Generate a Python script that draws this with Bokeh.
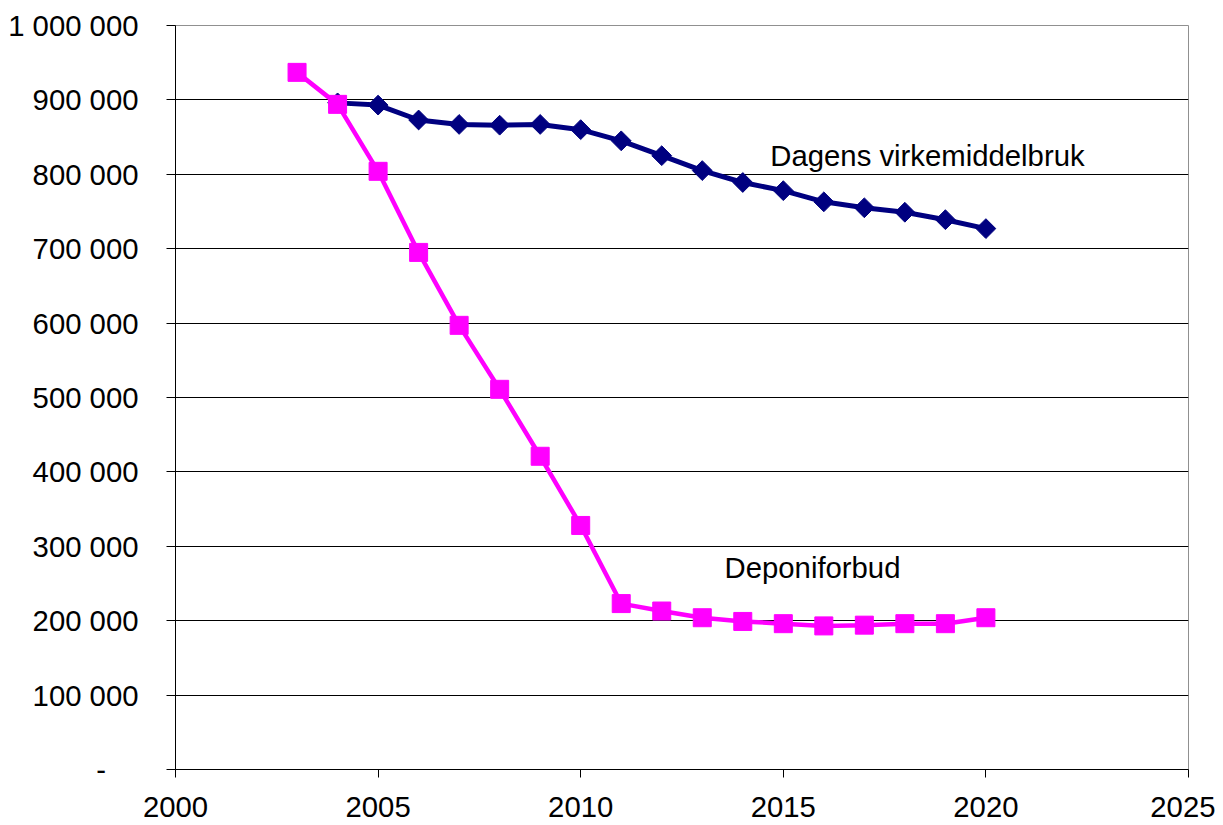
from bokeh.plotting import figure
from bokeh.models import Range1d, FixedTicker, Label
from bokeh.embed import file_html
from bokeh.resources import INLINE
import math

# Data
years_dagens = [2004, 2005, 2006, 2007, 2008, 2009, 2010, 2011, 2012,
                2013, 2014, 2015, 2016, 2017, 2018, 2019, 2020]
dagens = [896000, 893000, 873000, 867000, 866000, 867000, 860000, 845000, 825000,
          805000, 789000, 778000, 763000, 755000, 749000, 739000, 727000]

years_depon = [2003, 2004, 2005, 2006, 2007, 2008, 2009, 2010, 2011, 2012,
               2013, 2014, 2015, 2016, 2017, 2018, 2019, 2020]
depon = [937000, 894000, 804000, 695000, 597000, 511000, 421000, 328000, 223000, 213000,
         204000, 199000, 196000, 193000, 194000, 196000, 196000, 204000]

x_ticks = [2000, 2005, 2010, 2015, 2020, 2025]
y_ticks = [0, 100000, 200000, 300000, 400000, 500000, 600000, 700000, 800000, 900000, 1000000]
y_tick_labels = ["-\u00a0\u00a0\u00a0\u00a0", "100 000", "200 000", "300 000", "400 000", "500 000",
                 "600 000", "700 000", "800 000", "900 000", "1 000 000"]

label_dagens = "Dagens virkemiddelbruk"
label_depon = "Deponiforbud"

FONT = "Liberation Sans"
FS = "29.3px"

p = figure(width=1215, height=822, output_backend="svg", toolbar_location=None,
           x_range=Range1d(2000, 2025), y_range=Range1d(0, 1000000),
           min_border_left=175, min_border_right=27, min_border_top=25, min_border_bottom=53)

p.background_fill_color = "white"
p.border_fill_color = "white"
p.outline_line_color = "#909090"
p.outline_line_width = 1

# grid
p.xgrid.grid_line_color = None
p.ygrid.grid_line_color = "black"
p.ygrid.grid_line_width = 1

# axes
p.xaxis.ticker = FixedTicker(ticks=x_ticks)
p.yaxis.ticker = FixedTicker(ticks=y_ticks)
p.yaxis.major_label_overrides = {t: l for t, l in zip(y_ticks, y_tick_labels)}
p.xaxis.major_label_overrides = {t: str(t) for t in x_ticks}
for ax in (p.xaxis, p.yaxis):
    ax.axis_line_color = "black"
    ax.axis_line_width = 1
    ax.major_tick_line_color = "black"
    ax.major_tick_in = 0
    ax.minor_tick_line_color = None
    ax.major_label_text_font = FONT
    ax.major_label_text_font_size = FS
    ax.major_label_text_color = "black"
p.xaxis.major_tick_out = 8
p.yaxis.major_tick_out = 9
p.xaxis.major_label_standoff = 19
p.yaxis.major_label_standoff = 28

# series
p.line(years_dagens, dagens, line_color="#000080", line_width=5)
p.scatter(years_dagens, dagens, marker="square", size=14, angle=math.pi / 4,
          fill_color="#000080", line_color="#000080")

p.line(years_depon, depon, line_color="#FF00FF", line_width=4.5)
p.scatter(years_depon, depon, marker="square", size=18,
          fill_color="#FF00FF", line_color="#FF00FF")

# annotations
p.add_layout(Label(x=2014.68, y=825000, text=label_dagens, text_font=FONT,
                   text_font_size=FS, text_color="black", text_baseline="middle"))
p.add_layout(Label(x=2013.55, y=271000, text=label_depon, text_font=FONT,
                   text_font_size=FS, text_color="black", text_baseline="middle"))

open("out.html", "w").write(file_html(p, INLINE))
